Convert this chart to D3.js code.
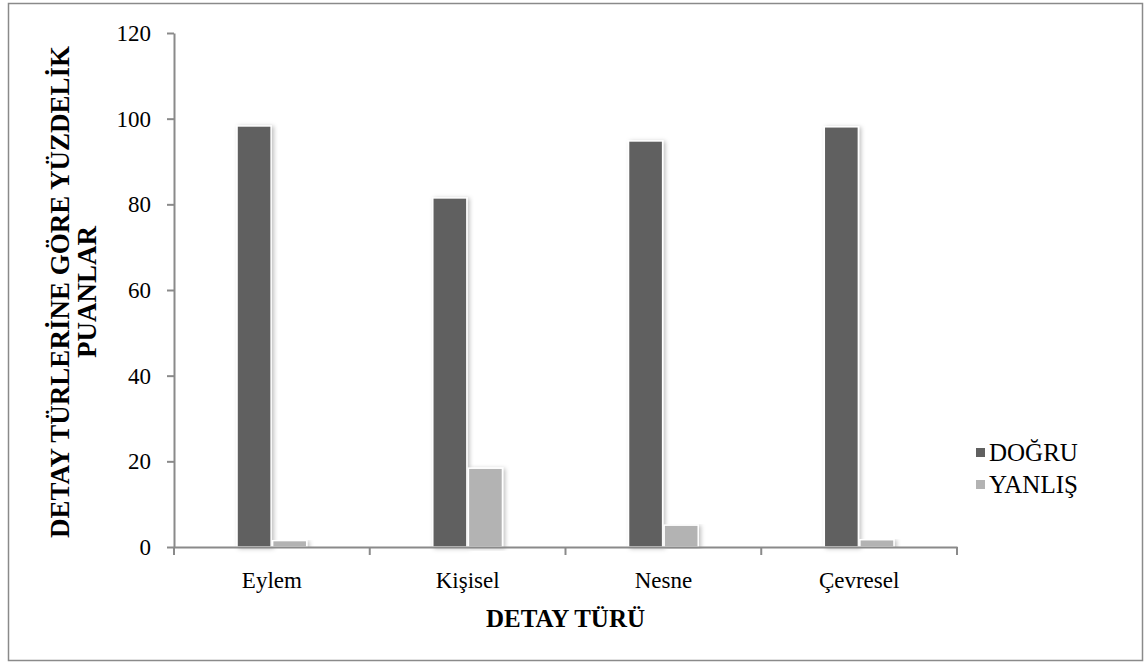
<!DOCTYPE html>
<html>
<head>
<meta charset="utf-8">
<script src="https://cdn.jsdelivr.net/npm/d3@7"></script>
<style>
  html, body { margin: 0; padding: 0; background: #fff; }
  svg { display: block; font-family: "Liberation Serif", "Times New Roman", serif; }
</style>
</head>
<body>
<svg id="chart" width="1144" height="663"></svg>
<script>
// Percentage scores per detail type
const categories = ["Eylem", "Kişisel", "Nesne", "Çevresel"];
const seriesNames = ["DOĞRU", "YANLIŞ"];
const dogru = [98.3, 81.5, 94.8, 98.1];
const yanlis = [1.5, 18.4, 5.1, 1.7];
const yTicks = [0, 20, 40, 60, 80, 100, 120];
const colors = ["#606060", "#b3b3b3"];

const FONT = "Liberation Serif, Times New Roman, serif";
const svg = d3.select("#chart");
const margin = { left: 174, right: 187, top: 33, bottom: 116 };
const W = 1144, H = 663;

// Outer frame
svg.append("rect")
  .attr("x", 8.5).attr("y", 3.5)
  .attr("width", W - 10).attr("height", H - 6)
  .attr("fill", "#fff").attr("stroke", "#8a8a8a").attr("stroke-width", 1.5);

// Soft shadow for the bars
const defs = svg.append("defs");
const f = defs.append("filter").attr("id", "shadow")
  .attr("x", "-20%").attr("y", "-5%").attr("width", "140%").attr("height", "110%");
f.append("feDropShadow").attr("dx", 2).attr("dy", 1).attr("stdDeviation", 2)
  .attr("flood-color", "#000").attr("flood-opacity", 0.25);

const x0 = d3.scaleBand().domain(categories)
  .range([margin.left, W - margin.right]).paddingInner(0).paddingOuter(0);
const x1 = d3.scaleBand().domain(seriesNames)
  .range([0, x0.bandwidth()]).paddingInner(0.0).paddingOuter(1.75);
const y = d3.scaleLinear().domain([0, 120]).range([H - margin.bottom, margin.top]);

const rows = categories.map((c, i) => ({ cat: c, vals: [dogru[i], yanlis[i]] }));

const g = svg.append("g");
const groups = g.selectAll("g.cat").data(rows).join("g")
  .attr("class", "cat")
  .attr("transform", d => `translate(${x0(d.cat)},0)`);

groups.selectAll("rect").data(d => d.vals.map((v, k) => ({ s: seriesNames[k], v, k })))
  .join("rect")
  .attr("x", d => x1(d.s) + 0.75)
  .attr("width", x1.bandwidth() - 1.5)
  .attr("y", d => y(d.v))
  .attr("height", d => y(0) - y(d.v))
  .attr("fill", d => colors[d.k])
  .attr("stroke", "#ffffff")
  .attr("stroke-width", 1.5)
  .attr("filter", "url(#shadow)");

// Y axis
const yAxis = d3.axisLeft(y).tickValues(yTicks).tickSize(7).tickPadding(16).tickSizeOuter(0);
const ya = svg.append("g").attr("transform", `translate(${margin.left},0)`).call(yAxis);
ya.select(".domain").attr("stroke", "#8a8a8a").attr("stroke-width", 2);
ya.selectAll(".tick line").attr("stroke", "#8a8a8a").attr("stroke-width", 2);
ya.selectAll(".tick text").attr("font-size", 23).attr("fill", "#000")
  .attr("font-family", FONT);

// X axis
const xAxis = d3.axisBottom(x0).tickSize(0).tickPadding(25);
const xa = svg.append("g").attr("transform", `translate(0,${y(0)})`).call(xAxis);
xa.select(".domain").attr("stroke", "#8a8a8a").attr("stroke-width", 2);
xa.selectAll(".tick text").attr("font-size", 23).attr("fill", "#000")
  .attr("font-family", FONT);
// Category boundary ticks
const bounds = categories.map(c => x0(c)).concat([x0.range()[1]]);
xa.selectAll("line.bound").data(bounds).join("line")
  .attr("class", "bound")
  .attr("x1", d => d).attr("x2", d => d)
  .attr("y1", 0).attr("y2", 8)
  .attr("stroke", "#8a8a8a").attr("stroke-width", 2);

// Axis titles
svg.append("text")
  .attr("x", (margin.left + W - margin.right) / 2).attr("y", 627)
  .attr("text-anchor", "middle").attr("font-size", 25).attr("font-weight", "bold")
  .attr("font-family", FONT)
  .text("DETAY TÜRÜ");

const yt = svg.append("text")
  .attr("transform", `translate(69,292) rotate(-90)`)
  .attr("text-anchor", "middle").attr("font-size", 27).attr("font-weight", "bold")
  .attr("font-family", FONT);
yt.append("tspan").attr("x", 0).attr("dy", 0).text("DETAY TÜRLERİNE GÖRE YÜZDELİK");
yt.append("tspan").attr("x", 0).attr("dy", 27).text("PUANLAR");

// Legend
const leg = svg.append("g").attr("transform", "translate(976,461)");
seriesNames.forEach((s, i) => {
  const row = leg.append("g").attr("transform", `translate(0,${i * 32})`);
  row.append("rect").attr("x", 0).attr("y", -13).attr("width", 9).attr("height", 9)
    .attr("fill", colors[i]);
  row.append("text").attr("x", 13).attr("y", 0).attr("font-size", 25)
    .attr("font-family", FONT).text(s);
});
</script>
</body>
</html>
